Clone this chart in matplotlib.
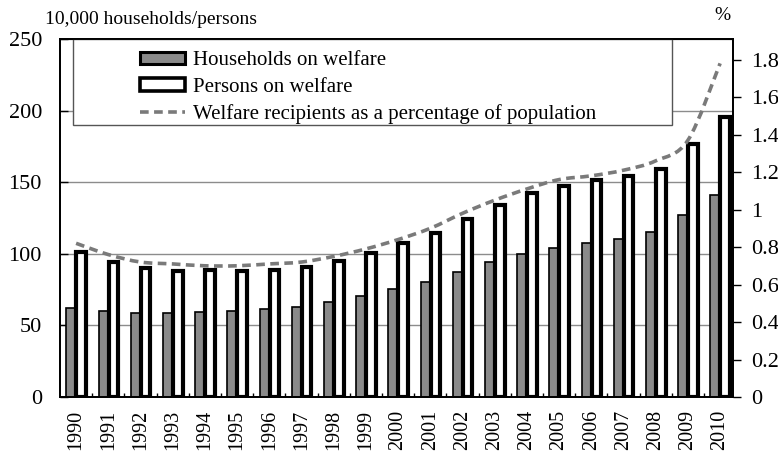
import matplotlib
matplotlib.use("Agg")
import matplotlib.pyplot as plt
import numpy as np
from matplotlib.lines import Line2D
from matplotlib.patches import Patch, PathPatch, Rectangle
from matplotlib.path import Path
from matplotlib.ticker import FuncFormatter, FixedLocator

plt.rcParams["font.family"] = ["Liberation Serif", "DejaVu Serif"]

years = [str(y) for y in range(1990, 2011)]
households = [62.4, 60.1, 58.6, 58.6, 59.5, 60.2, 61.3, 63.1, 66.3, 70.4, 75.1,
              80.5, 87.1, 94.1, 99.9, 104.2, 107.6, 110.5, 114.9, 127.4, 141.0]
persons = [101.5, 94.6, 89.8, 88.3, 88.5, 88.2, 88.7, 90.5, 94.7, 100.4, 107.2,
           114.8, 124.3, 134.4, 142.3, 147.6, 151.4, 154.3, 159.3, 176.4, 195.2]
pct_population = [0.82, 0.76, 0.72, 0.71, 0.70, 0.70, 0.71, 0.72, 0.75, 0.79, 0.84,
                  0.90, 0.98, 1.05, 1.11, 1.16, 1.18, 1.21, 1.26, 1.37, 1.78]

labels = ["Households on welfare", "Persons on welfare",
          "Welfare recipients as a percentage of population"]

BAR_GRAY = "#8a8a8a"
LINE_GRAY = "#7a7a7a"
GRID_GRAY = "#8c8c8c"


def smooth_path(xs, ys):
    # Catmull-Rom segments written as cubic Bezier pieces
    pts = np.column_stack([xs, ys]).astype(float)
    padded = np.vstack([pts[0], pts, pts[-1]])
    verts = [tuple(pts[0])]
    codes = [Path.MOVETO]
    for i in range(1, len(padded) - 2):
        p0, p1, p2, p3 = padded[i - 1], padded[i], padded[i + 1], padded[i + 2]
        c1 = p1 + (p2 - p0) / 6.0
        c2 = p2 - (p3 - p1) / 6.0
        verts += [tuple(c1), tuple(c2), tuple(p2)]
        codes += [Path.CURVE4] * 3
    return Path(verts, codes)


fig = plt.figure(figsize=(7.78, 4.54), dpi=100)
ax = fig.add_axes([60 / 778, 1 - 397 / 454, 673 / 778, 358 / 454])
x = np.arange(len(years))
width = 0.3

ax.bar(x - 0.15, households, width, color=BAR_GRAY, edgecolor="black", linewidth=1.2, zorder=3)
ax.bar(x + 0.16, persons, width, color="white", edgecolor="black", linewidth=3.0, zorder=3)

ax.set_xlim(-0.5, 20.4)
ax.set_ylim(0, 250)
ax.set_yticks(range(0, 251, 50))
ax.yaxis.grid(True, color=GRID_GRAY, linewidth=1.0, zorder=0)
ax.set_axisbelow(True)
ax.tick_params(axis="y", direction="in", length=6, width=1, labelsize=16, pad=13)
ax.set_xticks(x)
ax.set_xticklabels(years, rotation=90, fontsize=14.5)
ax.tick_params(axis="x", which="major", length=0, pad=9)
ax.xaxis.set_minor_locator(FixedLocator(x[:-1] + 0.5))
ax.tick_params(axis="x", which="minor", direction="in", length=3, width=1)
for s in ax.spines.values():
    s.set_linewidth(1.3)

# legend box covers the upper gridlines
ax.add_patch(Rectangle((13 / 673, (397 - 125) / 358), (672 - 73) / 673, (125 - 39) / 358,
                       transform=ax.transAxes, facecolor="white", edgecolor="#555555",
                       linewidth=1.0, zorder=4))

ax2 = ax.twinx()
ax2.set_ylim(0, 1.91)
ax2.set_yticks(np.arange(0, 1.81, 0.2))
ax2.yaxis.set_major_formatter(FuncFormatter(lambda v, _: f"{v:g}"))
ax2.tick_params(axis="y", direction="out", length=6, width=1, labelsize=16, pad=7)
ax2.add_patch(PathPatch(smooth_path(x, pct_population), facecolor="none", edgecolor=LINE_GRAY,
                        linewidth=2.6, linestyle=(0, (2.4, 1.5)), zorder=5))
for s in ax2.spines.values():
    s.set_linewidth(1.3)

handles = [
    Patch(facecolor=BAR_GRAY, edgecolor="black", linewidth=2.2),
    Patch(facecolor="white", edgecolor="black", linewidth=2.6),
    Line2D([0], [0], color=LINE_GRAY, linewidth=2.6, linestyle=(0, (2.4, 1.5))),
]
leg = ax2.legend(handles, labels, loc="upper left", bbox_to_anchor=(80 / 673, 0.966),
                 frameon=False, fontsize=15, handlelength=2.15, handleheight=0.55,
                 handletextpad=0.4, labelspacing=0.36, borderpad=0, borderaxespad=0)
leg.set_zorder(6)

fig.text(45 / 778, 1 - 19 / 454, "10,000 households/persons", fontsize=14, va="center", ha="left")
fig.text(722 / 778, 1 - 16 / 454, "%", fontsize=14, va="center", ha="center")

fig.savefig("out.png", dpi=100)
